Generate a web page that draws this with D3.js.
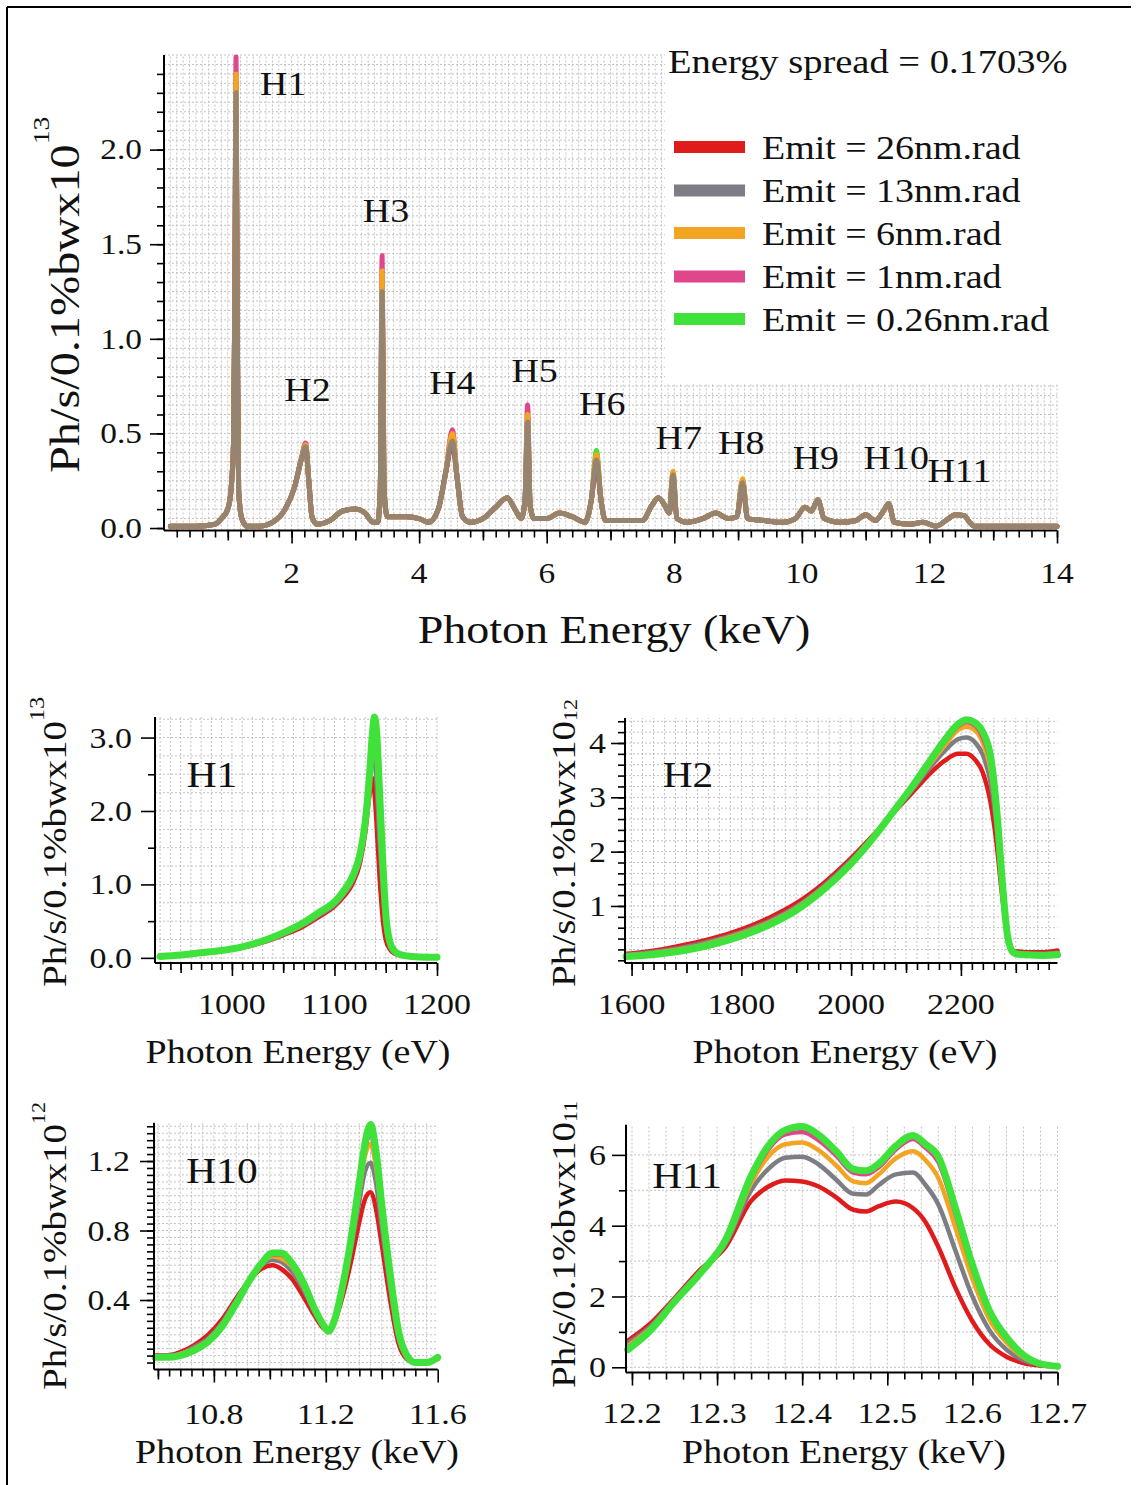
<!DOCTYPE html>
<html>
<head>
<meta charset="utf-8">
<script src="https://cdn.jsdelivr.net/npm/d3@7"></script>
<style>
  body { margin: 0; background: #fff; }
  text { font-family: "Liberation Serif", "Times New Roman", serif; fill: #111; }
</style>
</head>
<body>
<svg id="fig" width="1138" height="1485"></svg>
<script>
// ---------- series metadata ----------
const seriesNames  = ["Emit = 26nm.rad", "Emit = 13nm.rad", "Emit = 6nm.rad", "Emit = 1nm.rad", "Emit = 0.26nm.rad"];
const seriesColors = ["#e01b1b", "#7d7d85", "#f2a422", "#e0478a", "#3ee23a"];

// ---------- full spectrum, 0-14 keV (units of 1e13) ----------
const topEnergy = [0.10,0.50,0.80,0.90,1.00,1.05,1.09,1.11,1.13,1.15,1.17,1.22,1.30,1.50,1.70,1.90,2.05,2.15,2.22,2.27,
  2.32,2.40,2.60,2.80,3.00,3.15,3.28,3.35,3.39,3.42,3.45,3.50,3.80,4.00,4.15,4.30,4.42,4.52,4.60,4.68,
  4.80,5.00,5.20,5.38,5.50,5.60,5.66,5.70,5.74,5.80,6.00,6.20,6.40,6.60,6.70,6.78,6.85,6.92,7.20,7.50,
  7.65,7.75,7.85,7.92,7.98,8.04,8.20,8.45,8.65,8.85,8.98,9.07,9.15,9.40,9.70,9.90,10.05,10.15,10.25,10.35,
  10.60,10.85,11.00,11.15,11.30,11.36,11.45,11.70,11.90,12.10,12.30,12.40,12.55,12.63,12.70,13.00,14.00];
const topEmit26 = [0.01,0.01,0.02,0.05,0.10,0.20,0.45,1.20,2.20,1.00,0.20,0.05,0.01,0.01,0.03,0.10,0.22,0.36,0.42,0.25,
  0.06,0.02,0.04,0.09,0.10,0.08,0.03,0.03,0.20,1.18,0.20,0.06,0.06,0.05,0.03,0.10,0.30,0.45,0.25,0.06,
  0.03,0.05,0.11,0.16,0.10,0.05,0.15,0.53,0.12,0.05,0.05,0.08,0.06,0.03,0.15,0.34,0.15,0.04,0.04,0.04,
  0.12,0.16,0.12,0.08,0.26,0.05,0.03,0.05,0.08,0.05,0.06,0.23,0.05,0.04,0.03,0.05,0.11,0.09,0.15,0.05,
  0.03,0.04,0.07,0.04,0.10,0.13,0.03,0.02,0.03,0.01,0.05,0.07,0.065,0.03,0.01,0.01,0.01];
const topEmit13 = [0.01,0.01,0.02,0.05,0.10,0.20,0.45,1.20,2.30,1.00,0.20,0.05,0.01,0.01,0.03,0.10,0.22,0.36,0.43,0.25,
  0.06,0.02,0.04,0.09,0.10,0.08,0.03,0.03,0.20,1.25,0.20,0.06,0.06,0.05,0.03,0.10,0.30,0.46,0.25,0.06,
  0.03,0.05,0.11,0.16,0.10,0.05,0.15,0.56,0.12,0.05,0.05,0.08,0.06,0.03,0.15,0.36,0.15,0.04,0.04,0.04,
  0.12,0.16,0.12,0.08,0.28,0.05,0.03,0.05,0.08,0.05,0.06,0.24,0.05,0.04,0.03,0.05,0.11,0.09,0.15,0.05,
  0.03,0.04,0.07,0.04,0.10,0.13,0.03,0.02,0.03,0.01,0.05,0.07,0.065,0.03,0.01,0.01,0.01];
const topEmit6 = [0.01,0.01,0.02,0.05,0.10,0.20,0.45,1.20,2.40,1.00,0.20,0.05,0.01,0.01,0.03,0.10,0.22,0.36,0.44,0.25,
  0.06,0.02,0.04,0.09,0.10,0.08,0.03,0.03,0.20,1.36,0.20,0.06,0.06,0.05,0.03,0.10,0.30,0.50,0.25,0.06,
  0.03,0.05,0.11,0.16,0.10,0.05,0.15,0.60,0.12,0.05,0.05,0.08,0.06,0.03,0.15,0.39,0.15,0.04,0.04,0.04,
  0.12,0.16,0.12,0.08,0.30,0.05,0.03,0.05,0.08,0.05,0.06,0.26,0.05,0.04,0.03,0.05,0.11,0.09,0.15,0.05,
  0.03,0.04,0.07,0.04,0.10,0.13,0.03,0.02,0.03,0.01,0.05,0.07,0.065,0.03,0.01,0.01,0.01];
const topEmit1 = [0.01,0.01,0.02,0.05,0.10,0.20,0.45,1.20,2.49,1.00,0.20,0.05,0.01,0.01,0.03,0.10,0.22,0.36,0.45,0.25,
  0.06,0.02,0.04,0.09,0.10,0.08,0.03,0.03,0.20,1.44,0.20,0.06,0.06,0.05,0.03,0.10,0.30,0.52,0.25,0.06,
  0.03,0.05,0.11,0.16,0.10,0.05,0.15,0.65,0.12,0.05,0.05,0.08,0.06,0.03,0.15,0.38,0.15,0.04,0.04,0.04,
  0.12,0.16,0.12,0.08,0.29,0.05,0.03,0.05,0.08,0.05,0.06,0.25,0.05,0.04,0.03,0.05,0.11,0.09,0.15,0.05,
  0.03,0.04,0.07,0.04,0.10,0.13,0.03,0.02,0.03,0.01,0.05,0.07,0.065,0.03,0.01,0.01,0.01];
const topEmit026 = [0.01,0.01,0.02,0.05,0.10,0.20,0.45,1.20,2.36,1.00,0.20,0.05,0.01,0.01,0.03,0.10,0.22,0.36,0.44,0.25,
  0.06,0.02,0.04,0.09,0.10,0.08,0.03,0.03,0.20,1.30,0.20,0.06,0.06,0.05,0.03,0.10,0.30,0.48,0.25,0.06,
  0.03,0.05,0.11,0.16,0.10,0.05,0.15,0.58,0.12,0.05,0.05,0.08,0.06,0.03,0.15,0.41,0.15,0.04,0.04,0.04,
  0.12,0.16,0.12,0.08,0.29,0.05,0.03,0.05,0.08,0.05,0.06,0.25,0.05,0.04,0.03,0.05,0.11,0.09,0.15,0.05,
  0.03,0.04,0.07,0.04,0.10,0.13,0.03,0.02,0.03,0.01,0.05,0.07,0.065,0.03,0.01,0.01,0.01];
const harmonicLabels = ["H1","H2","H3","H4","H5","H6","H7","H8","H9","H10","H11"];
const harmonicLabelKeV = [1.87,2.25,3.48,4.52,5.81,6.87,8.07,9.05,10.22,11.48,12.47];
const harmonicLabelVal = [2.29,0.67,1.62,0.71,0.77,0.60,0.42,0.39,0.31,0.31,0.245];

// ---------- H1 detail (eV, units of 1e13) ----------
const h1Energy = [930,950,970,990,1010,1030,1050,1070,1085,1100,1110,1118,1125,1130,1134,1137,1139,1141,1144,1147,1150,1154,1158,1165,1175,1190,1200];
const h1Emit26 = [0.02,0.04,0.07,0.10,0.14,0.21,0.31,0.43,0.56,0.70,0.85,1.02,1.30,1.70,2.20,2.45,2.25,1.85,1.10,0.55,0.25,0.12,0.06,0.03,0.02,0.01,0.01];
const h1Emit13 = [0.02,0.04,0.07,0.10,0.14,0.22,0.32,0.45,0.58,0.72,0.88,1.06,1.35,1.78,2.35,2.75,2.70,2.40,1.60,0.95,0.45,0.17,0.08,0.04,0.02,0.01,0.01];
const h1Emit6  = [0.02,0.04,0.07,0.10,0.15,0.22,0.33,0.46,0.60,0.74,0.90,1.09,1.38,1.82,2.40,2.92,3.00,2.75,1.95,1.15,0.52,0.20,0.09,0.04,0.02,0.01,0.01];
const h1Emit1  = [0.02,0.04,0.07,0.10,0.15,0.23,0.34,0.47,0.61,0.75,0.92,1.11,1.40,1.84,2.43,3.00,3.18,2.95,2.10,1.25,0.56,0.21,0.09,0.04,0.02,0.01,0.01];
const h1Emit026= [0.02,0.04,0.07,0.10,0.15,0.23,0.34,0.48,0.62,0.76,0.93,1.12,1.42,1.85,2.45,3.05,3.28,3.10,2.25,1.35,0.60,0.22,0.10,0.04,0.02,0.01,0.01];

// ---------- H2 detail (eV, units of 1e12) ----------
const h2Energy = [1590,1620,1660,1700,1750,1800,1850,1900,1950,2000,2040,2080,2110,2140,2170,2195,2210,2225,2240,2255,2265,2275,2285,2295,2305,2320,2350,2376];
const h2Emit26 = [0.12,0.15,0.21,0.29,0.41,0.57,0.78,1.05,1.42,1.88,2.30,2.75,3.07,3.40,3.67,3.80,3.80,3.70,3.45,2.85,2.15,1.20,0.42,0.18,0.16,0.15,0.15,0.18];
const h2Emit13 = [0.10,0.13,0.18,0.25,0.37,0.52,0.72,0.99,1.37,1.84,2.28,2.76,3.12,3.50,3.85,4.07,4.10,4.02,3.78,3.22,2.45,1.35,0.42,0.16,0.13,0.12,0.12,0.14];
const h2Emit6  = [0.09,0.11,0.16,0.22,0.34,0.49,0.69,0.96,1.34,1.81,2.27,2.77,3.15,3.56,3.95,4.24,4.30,4.24,4.00,3.45,2.65,1.45,0.44,0.16,0.12,0.11,0.10,0.12];
const h2Emit1  = [0.08,0.10,0.14,0.20,0.32,0.47,0.67,0.94,1.32,1.79,2.26,2.78,3.17,3.60,4.01,4.31,4.38,4.33,4.10,3.58,2.75,1.48,0.45,0.15,0.11,0.10,0.09,0.11];
const h2Emit026= [0.07,0.09,0.13,0.19,0.30,0.45,0.65,0.92,1.30,1.78,2.25,2.78,3.18,3.62,4.05,4.35,4.43,4.38,4.20,3.70,2.80,1.50,0.45,0.15,0.11,0.10,0.09,0.10];

// ---------- H10 detail (keV, units of 1e12) ----------
const h10Energy = [10.59,10.63,10.68,10.73,10.78,10.83,10.88,10.93,10.97,11.01,11.04,11.08,11.12,11.16,11.19,11.21,11.23,11.26,11.29,11.32,11.34,11.36,11.38,11.40,11.43,11.46,11.49,11.52,11.56,11.60];
const h10Emit26 = [0.08,0.08,0.10,0.14,0.20,0.29,0.41,0.52,0.58,0.60,0.58,0.52,0.42,0.31,0.24,0.22,0.27,0.42,0.62,0.85,0.98,1.02,0.92,0.72,0.40,0.15,0.06,0.04,0.04,0.06];
const h10Emit13 = [0.07,0.08,0.09,0.13,0.18,0.27,0.40,0.52,0.60,0.63,0.62,0.56,0.46,0.33,0.25,0.22,0.27,0.45,0.69,0.97,1.14,1.19,1.07,0.82,0.47,0.18,0.07,0.04,0.04,0.06];
const h10Emit6  = [0.07,0.07,0.09,0.12,0.17,0.26,0.39,0.52,0.61,0.65,0.64,0.59,0.48,0.34,0.26,0.22,0.28,0.47,0.72,1.03,1.23,1.30,1.16,0.89,0.51,0.20,0.08,0.04,0.04,0.06];
const h10Emit1  = [0.07,0.07,0.08,0.11,0.16,0.25,0.38,0.52,0.61,0.66,0.66,0.60,0.49,0.35,0.26,0.22,0.28,0.48,0.74,1.06,1.27,1.36,1.21,0.92,0.53,0.21,0.08,0.04,0.04,0.07];
const h10Emit026= [0.07,0.07,0.08,0.11,0.16,0.25,0.38,0.52,0.61,0.67,0.67,0.61,0.50,0.35,0.26,0.22,0.28,0.48,0.75,1.08,1.30,1.41,1.25,0.95,0.55,0.22,0.08,0.04,0.04,0.07];

// ---------- H11 detail (keV, units of 1e11) ----------
const h11Energy = [12.195,12.22,12.25,12.28,12.31,12.34,12.36,12.38,12.40,12.42,12.44,12.46,12.475,12.49,12.51,12.53,12.545,12.56,12.58,12.60,12.62,12.64,12.66,12.68,12.70];
const h11Emit26 = [0.75,1.20,1.95,2.75,3.40,4.70,5.10,5.28,5.25,5.10,4.80,4.45,4.40,4.55,4.68,4.50,4.10,3.40,2.25,1.30,0.65,0.30,0.12,0.05,0.02];
const h11Emit13 = [0.68,1.12,1.92,2.70,3.48,5.00,5.60,5.92,5.95,5.72,5.30,4.90,4.88,5.15,5.45,5.50,5.15,4.60,3.30,2.00,1.05,0.50,0.20,0.07,0.02];
const h11Emit6  = [0.60,1.06,1.88,2.67,3.55,5.20,5.95,6.30,6.35,6.12,5.70,5.25,5.20,5.45,5.90,6.10,5.85,5.35,3.95,2.50,1.35,0.70,0.28,0.09,0.03];
const h11Emit1  = [0.55,1.02,1.86,2.65,3.58,5.32,6.15,6.58,6.65,6.40,5.98,5.50,5.45,5.65,6.15,6.45,6.20,5.80,4.35,2.80,1.55,0.80,0.33,0.10,0.03];
const h11Emit026= [0.50,1.00,1.85,2.65,3.60,5.40,6.25,6.70,6.80,6.55,6.10,5.60,5.55,5.75,6.25,6.55,6.30,5.95,4.50,2.90,1.60,0.85,0.35,0.10,0.03];

// ---------- drawing ----------
const svg = d3.select("#fig");
const SX = 1.15;   // horizontal widening of the serif face

function label(g, s, x, y, size, anchor, rot) {
  return g.append("text")
    .attr("transform", `translate(${x},${y})` + (rot ? ` rotate(${rot})` : "") + ` scale(${SX},1)`)
    .attr("font-size", size)
    .attr("text-anchor", anchor || "start")
    .text(s);
}
function yTitle(g, x, y, size, supText, supSize, supDy) {
  const t = label(g, "Ph/s/0.1%bwx10", x, y, size, "start", -90);
  t.append("tspan").attr("font-size", supSize).attr("dy", supDy).text(supText);
}
function steps(start, stop, step) {
  const n = Math.round((stop - start) / step);
  return d3.range(n + 1).map(i => +(start + i * step).toFixed(6));
}

// outer frame
svg.append("line").attr("x1", 7).attr("x2", 7).attr("y1", 7).attr("y2", 1485).attr("stroke", "#000").attr("stroke-width", 2);
svg.append("line").attr("x1", 7).attr("x2", 1131).attr("y1", 7).attr("y2", 7).attr("stroke", "#000").attr("stroke-width", 2);

function panel(p) {
  const g = svg.append("g");
  const x = d3.scaleLinear().domain(p.xDomain).range(p.xRange);
  const y = d3.scaleLinear().domain(p.yDomain).range(p.yRange);
  const [xl, xr] = p.xRange, [yb, yt] = p.yRange;

  // grid
  const grid = g.append("g").attr("stroke", "#c2c2c2").attr("stroke-width", 1).attr("stroke-dasharray", "2,2");
  p.gridX.forEach(v => grid.append("line").attr("x1", x(v)).attr("x2", x(v)).attr("y1", yb).attr("y2", yt));
  p.gridY.forEach(v => grid.append("line").attr("x1", xl).attr("x2", xr).attr("y1", y(v)).attr("y2", y(v)));
  if (p.mask) g.append("rect").attr("x", p.mask[0]).attr("y", p.mask[1]).attr("width", p.mask[2]).attr("height", p.mask[3]).attr("fill", "#fff");

  // series
  const line = d3.line().x(d => x(d[0])).y(d => y(d[1])).curve(d3.curveMonotoneX);
  p.order.forEach(i => {
    const pts = p.energy.map((e, k) => [e, p.series[i][k]]);
    g.append("path").attr("d", line(pts)).attr("fill", "none")
      .attr("stroke", seriesColors[i]).attr("stroke-width", p.widths[i])
      .attr("stroke-opacity", p.opacity ? p.opacity[i] : 1)
      .attr("stroke-linejoin", "round").attr("stroke-linecap", "round");
  });

  // axes
  const ax = g.append("g").attr("transform", `translate(0,${yb})`);
  const ay = g.append("g").attr("transform", `translate(${xl},0)`);
  [[p.xMinor, 7], [p.xMid || [], 10], [p.xMajor, 13]].forEach(([vals, len]) => {
    ax.append("g").call(d3.axisBottom(x).tickValues(vals).tickSize(len).tickSizeOuter(0).tickFormat(""));
  });
  [[p.yMinor, 7], [p.yMid || [], 10], [p.yMajor, 14]].forEach(([vals, len]) => {
    ay.append("g").call(d3.axisLeft(y).tickValues(vals).tickSize(len).tickSizeOuter(0).tickFormat(""));
  });
  g.selectAll(".domain").attr("stroke", "none");
  g.selectAll(".tick line").attr("stroke", "#000").attr("stroke-width", 1.6);
  g.append("line").attr("x1", xl).attr("x2", xr).attr("y1", yb).attr("y2", yb).attr("stroke", "#000").attr("stroke-width", 2);
  g.append("line").attr("x1", xl).attr("x2", xl).attr("y1", yb).attr("y2", yt).attr("stroke", "#000").attr("stroke-width", 2);

  // tick labels
  p.xMajor.forEach(v => label(g, p.xFmt(v), x(v), p.xLabelY, p.tickSize, "middle"));
  p.yMajor.forEach(v => label(g, p.yFmt(v), p.yLabelX, y(v) + p.tickSize * 0.34, p.tickSize, "end"));
  return { g, x, y };
}

const allOrder = [0, 1, 2, 3, 4];

// full spectrum
const fullPanel = panel({
  xDomain: [0, 14], xRange: [164, 1057],
  yDomain: [-0.013, 2.5], yRange: [530.5, 55],
  energy: topEnergy, series: [topEmit26, topEmit13, topEmit6, topEmit1, topEmit026],
  order: [4, 3, 0, 2, 1], widths: [5, 5, 5, 5, 5], opacity: [1, 0.8, 1, 1, 1],
  gridX: steps(0.1, 14, 0.1), gridY: steps(0.05, 2.5, 0.05),
  mask: [665, 20, 400, 363],
  xMajor: [2, 4, 6, 8, 10, 12, 14], xMid: [1, 3, 5, 7, 9, 11, 13], xMinor: steps(0.2, 14, 0.2),
  yMajor: [0, 0.5, 1.0, 1.5, 2.0], yMinor: steps(0, 2.4, 0.1),
  xFmt: d3.format("d"), yFmt: d3.format(".1f"),
  tickSize: 29, xLabelY: 583, yLabelX: 142
});
harmonicLabels.forEach((h, i) => label(fullPanel.g, h, fullPanel.x(harmonicLabelKeV[i]), fullPanel.y(harmonicLabelVal[i]), 33, "middle"));
label(svg, "Photon Energy (keV)", 614, 643, 40, "middle");
yTitle(svg, 79, 473, 42, "13", 24, -30);

// annotation and legend
label(svg, "Energy spread = 0.1703%", 668, 73, 33.5, "start");
const legendRowY = [147, 190.5, 233, 276.5, 319];
seriesNames.forEach((n, i) => {
  svg.append("rect").attr("x", 674).attr("y", legendRowY[i] - 6).attr("width", 71).attr("height", 12).attr("fill", seriesColors[i]);
  label(svg, n, 762, legendRowY[i] + 11.5, 33, "start");
});

const subWidths = [4.5, 4.5, 4.5, 4.5, 7];

// H1
panel({
  xDomain: [925, 1200], xRange: [155, 437],
  yDomain: [-0.07, 3.28], yRange: [963, 717],
  energy: h1Energy, series: [h1Emit26, h1Emit13, h1Emit6, h1Emit1, h1Emit026],
  order: allOrder, widths: subWidths,
  gridX: steps(930, 1200, 10), gridY: steps(0, 3.25, 0.25),
  xMajor: [1000, 1100, 1200], xMid: [950, 1050, 1150], xMinor: steps(930, 1200, 10),
  yMajor: [0, 1, 2, 3], yMinor: [0.5, 1.5, 2.5],
  xFmt: d3.format("d"), yFmt: d3.format(".1f"),
  tickSize: 29.5, xLabelY: 1014, yLabelX: 132
});
label(svg, "H1", 212, 787, 36, "middle");
label(svg, "Photon Energy (eV)", 298, 1063, 33, "middle");
yTitle(svg, 66, 987, 34, "13", 21, -22);

// H2
panel({
  xDomain: [1588, 2376], xRange: [625, 1057.5],
  yDomain: [-0.05, 4.46], yRange: [963, 718],
  energy: h2Energy, series: [h2Emit26, h2Emit13, h2Emit6, h2Emit1, h2Emit026],
  order: allOrder, widths: subWidths,
  gridX: steps(1600, 2360, 20), gridY: steps(0.2, 4.4, 0.2),
  xMajor: [1600, 1800, 2000, 2200], xMid: [1700, 1900, 2100, 2300], xMinor: steps(1600, 2360, 20),
  yMajor: [1, 2, 3, 4], yMinor: steps(0, 4.4, 0.2),
  xFmt: d3.format("d"), yFmt: d3.format("d"),
  tickSize: 29.5, xLabelY: 1014, yLabelX: 606
});
label(svg, "H2", 688, 787, 36, "middle");
label(svg, "Photon Energy (eV)", 845, 1063, 33, "middle");
yTitle(svg, 575, 987, 34, "12", 19, 2);

// H10
panel({
  xDomain: [10.586, 11.6], xRange: [154, 437.7],
  yDomain: [0, 1.42], yRange: [1369.5, 1122.8],
  energy: h10Energy, series: [h10Emit26, h10Emit13, h10Emit6, h10Emit1, h10Emit026],
  order: allOrder, widths: subWidths,
  gridX: steps(10.6, 11.56, 0.04), gridY: steps(0.04, 1.4, 0.04),
  xMajor: [10.8, 11.2, 11.6], xMid: [10.6, 11.0, 11.4], xMinor: steps(10.6, 11.56, 0.04),
  yMajor: [0.4, 0.8, 1.2], yMinor: steps(0.04, 1.4, 0.04),
  xFmt: d3.format(".1f"), yFmt: d3.format(".1f"),
  tickSize: 29.5, xLabelY: 1424, yLabelX: 130
});
label(svg, "H10", 222, 1183, 36, "middle");
label(svg, "Photon Energy (keV)", 297, 1463, 33, "middle");
yTitle(svg, 66, 1390, 34, "12", 19, -21);

// H11
panel({
  xDomain: [12.193, 12.7], xRange: [626, 1057.5],
  yDomain: [-0.15, 6.85], yRange: [1372.6, 1124.8],
  energy: h11Energy, series: [h11Emit26, h11Emit13, h11Emit6, h11Emit1, h11Emit026],
  order: allOrder, widths: subWidths,
  gridX: steps(12.2, 12.7, 0.02), gridY: steps(0, 6, 1),
  xMajor: [12.2, 12.3, 12.4, 12.5, 12.6, 12.7], xMinor: steps(12.2, 12.7, 0.02),
  yMajor: [0, 2, 4, 6], yMinor: [1, 3, 5],
  xFmt: d3.format(".1f"), yFmt: d3.format("d"),
  tickSize: 29.5, xLabelY: 1423, yLabelX: 606
});
label(svg, "H11", 687, 1188, 36, "middle");
label(svg, "Photon Energy (keV)", 844, 1463, 33, "middle");
yTitle(svg, 575, 1388, 34, "11", 19, 2);
</script>
</body>
</html>
